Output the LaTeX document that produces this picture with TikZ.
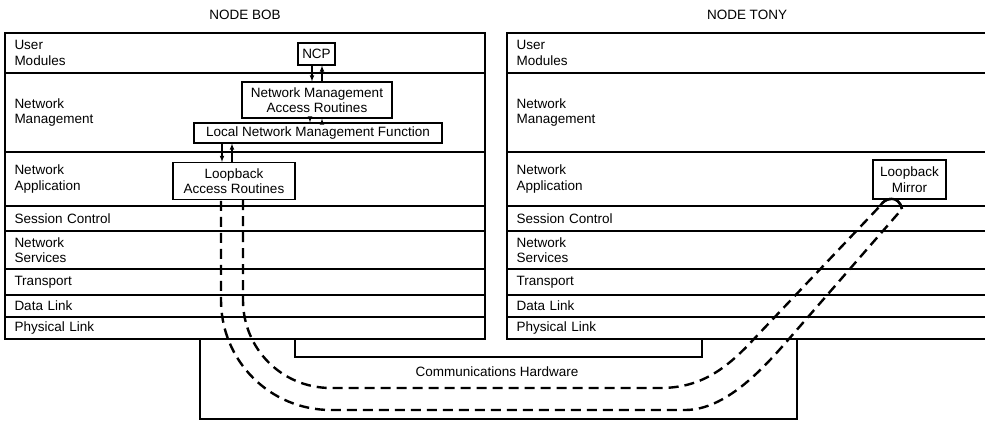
\documentclass[tikz,border=0pt]{standalone}
\usepackage{fontspec}
\setmainfont{Liberation Sans}
\usetikzlibrary{positioning}
\tikzstyle{layer}=[rectangle, draw=black, line width=1.1pt, outer sep=0pt, anchor=north west, align=left, text width=461pt, inner xsep=9.5pt, inner ysep=0pt]
\tikzstyle{box}=[rectangle, draw=black, line width=1.1pt, fill=white, align=center, inner sep=0pt, anchor=center]
\tikzstyle{annot}=[align=center]
\tikzstyle{link}=[line width=1.1pt, -latex]
\tikzstyle{hw}=[line width=2.2pt]
\tikzstyle{loopline}=[line width=2.4pt, dash pattern=on 10pt off 6pt]
\newcommand{\drawlayers}[2]
{
  \node[layer, minimum height=40pt](#2um) at (#1,33){User\\Modules};
  \node[layer, minimum height=79pt, below=0pt of #2um](#2nm){Network\\Management};
  \node[layer, minimum height=54pt, below=0pt of #2nm](#2na){Network\\Application};
  \node[layer, minimum height=25pt, below=0pt of #2na](#2sc){Session Control};
  \node[layer, minimum height=38pt, below=0pt of #2sc](#2ns){Network\\Services};
  \node[layer, minimum height=26pt, below=0pt of #2ns](#2tr){Transport};
  \node[layer, minimum height=22pt, below=0pt of #2tr](#2dl){Data Link};
  \node[layer, minimum height=22pt, below=0pt of #2dl](#2pl){Physical Link};
}

\begin{document}
\begin{tikzpicture}[x=1pt, y=-1pt, font=\fontsize{13.5}{15.5}\selectfont]
	\useasboundingbox (0,0) rectangle (985,423);

	% communications hardware
	\draw[hw] (200,339) |- (797,419) -- (797,339);
	\draw[hw] (295,339) |- (702,357) -- (702,339);
	\node[annot](hwtext) at (497,372){Communications Hardware};

	\drawlayers{5}{bob}
	\drawlayers{507}{tony}

	\node[annot, above=10pt of bobum.north](bobtitle){NODE BOB};
	\node[annot, above=10pt of tonyum.north](tonytitle){NODE TONY};

	\node[box, minimum width=37pt, minimum height=22pt](ncp) at (316.5,54){NCP};
	\node[box, minimum width=150pt, minimum height=36pt](nmar) at (317,100){Network Management\\Access Routines};
	\node[box, minimum width=248pt, minimum height=20pt](lnmf) at (318,133){Local Network Management Function};
	\node[box, minimum width=122pt, minimum height=37pt](lar) at (234,181){Loopback\\Access Routines};
	\node[box, minimum width=73pt, minimum height=39pt](mirror) at (909.5,179.5){Loopback\\Mirror};

	\draw[link] ([xshift=-4.5pt]ncp.south) -- ([xshift=-5pt]nmar.north);
	\draw[link] ([xshift=5pt]nmar.north) -- ([xshift=5.5pt]ncp.south);
	\draw[link] ([xshift=-7pt]nmar.south) -- ([xshift=-8pt]lnmf.north);
	\draw[link] ([xshift=4pt]lnmf.north) -- ([xshift=5pt]nmar.south);
	\draw[link] ([xshift=-96pt]lnmf.south) -- ([xshift=-12pt]lar.north);
	\draw[link] ([xshift=-2pt]lar.north) -- ([xshift=-86pt]lnmf.south);

	% loopback path
	\draw[loopline] ([xshift=9pt]lar.south) -- (243,300) .. controls (243,349) and (282,388) .. (331,388)
		-- (660,388) .. controls (700,388) and (725,370) .. (753,340) -- (880,206)
		.. controls (885,197) and (899,195) .. (902,209) -- (788,340)
		.. controls (762,370) and (725,410) .. (685,410) -- (331,410)
		.. controls (270,410) and (221,361) .. (221,300) -- ([xshift=-13pt]lar.south);
	\draw[line width=2.4pt] (880,206) .. controls (885,197) and (899,195) .. (902,209);

\end{tikzpicture}
\end{document}
